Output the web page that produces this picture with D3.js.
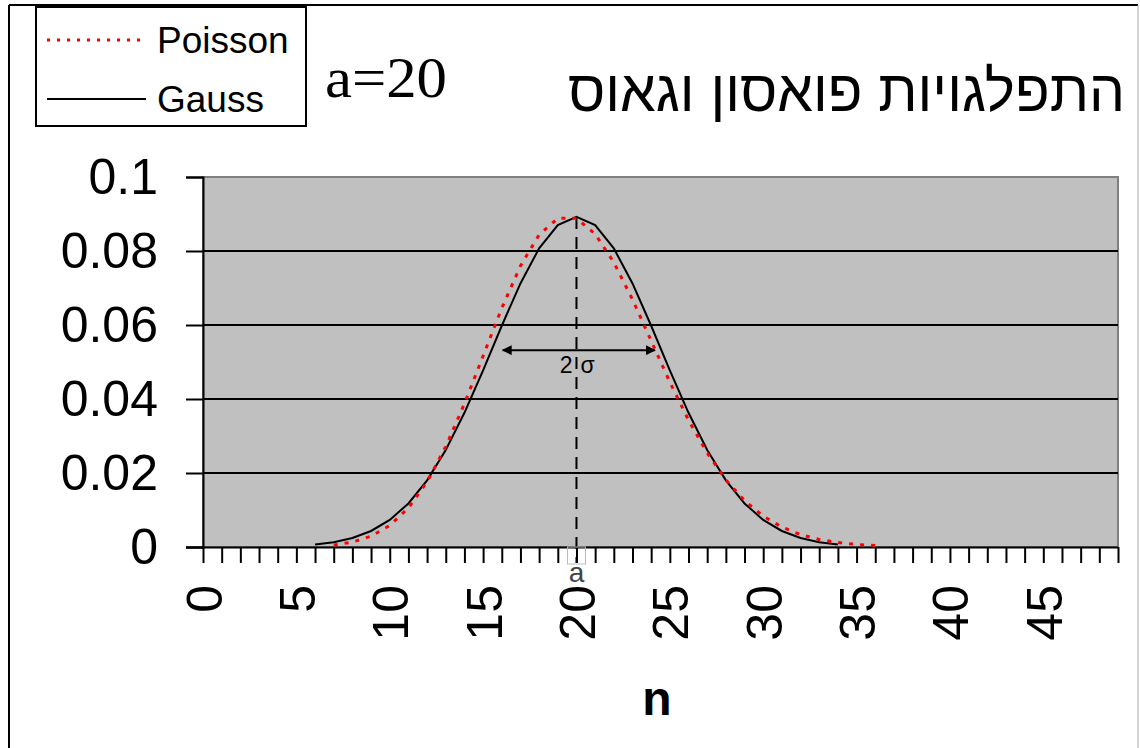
<!DOCTYPE html>
<html>

<head>
    <meta charset="utf-8">
    <script src="https://d3js.org/d3.v7.min.js"></script>
    <style>
        body {
            margin: 0;
            background: #fff;
        }
    </style>
</head>

<body>
    <div id="chart"></div>
    <script>
        // values
        var poissonN = [7, 8, 9, 10, 11, 12, 13, 14, 15, 16, 17, 18, 19, 20, 21, 22, 23, 24, 25, 26, 27, 28, 29, 30, 31, 32, 33, 34, 35, 36];
        var poissonP = [0.00052, 0.00132, 0.00291, 0.00582, 0.01057, 0.01762, 0.02712, 0.03874, 0.05165, 0.06457,
            0.07595, 0.08439, 0.08884, 0.08884, 0.08461, 0.07692, 0.06689, 0.05574, 0.04459, 0.03430,
            0.02541, 0.01815, 0.01252, 0.00834, 0.00538, 0.00336, 0.00204, 0.00120, 0.00069, 0.00038];
        var gaussN = [6, 7, 8, 9, 10, 11, 12, 13, 14, 15, 16, 17, 18, 19, 20, 21, 22, 23, 24, 25, 26, 27, 28, 29, 30, 31, 32, 33, 34];
        var gaussP = [0.00066, 0.00130, 0.00244, 0.00433, 0.00732, 0.01177, 0.01801, 0.02621, 0.03627, 0.04775,
            0.05980, 0.07124, 0.08072, 0.08701, 0.08921, 0.08701, 0.08072, 0.07124, 0.05980, 0.04775,
            0.03627, 0.02621, 0.01801, 0.01177, 0.00732, 0.00433, 0.00244, 0.00130, 0.00066];
        var xTickLabels = [0, 5, 10, 15, 20, 25, 30, 35, 40, 45];
        var yTickLabels = [0, 0.02, 0.04, 0.06, 0.08, 0.1];
        var titleText = "התפלגויות פואסון וגאוס";
        var paramText = "a=20";
        var legendNames = ["Poisson", "Gauss"];
        var meanA = 20;
        var sigmaFrom = 16.05, sigmaTo = 24.2, sigmaLevel = 0.0532;

        var W = 1140, H = 748;
        var svg = d3.select("#chart").append("svg")
            .attr("width", W)
            .attr("height", H)
            .style("font-family", "'Liberation Sans', Arial, sans-serif");

        // outer chart frame
        svg.append("line").attr("x1", 9).attr("x2", 9).attr("y1", 5).attr("y2", H)
            .attr("stroke", "#000").attr("stroke-width", 2);
        svg.append("line").attr("x1", 9).attr("x2", 1138).attr("y1", 5).attr("y2", 5)
            .attr("stroke", "#000").attr("stroke-width", 2);
        svg.append("line").attr("x1", 1138).attr("x2", 1138).attr("y1", 5).attr("y2", H)
            .attr("stroke", "#aaa").attr("stroke-width", 1);

        var x = d3.scaleLinear().domain([0, 49]).range([203, 1118]);
        var y = d3.scaleLinear().domain([0, 0.1]).range([547, 177]);

        // plot area
        svg.append("rect")
            .attr("x", x(0)).attr("y", y(0.1))
            .attr("width", x(49) - x(0)).attr("height", y(0) - y(0.1))
            .attr("fill", "#c0c0c0")
            .attr("stroke", "#808080")
            .attr("stroke-width", 2);

        // gridlines
        svg.selectAll(".grid")
            .data(yTickLabels.filter(function (d) { return d > 0 && d < 0.1; }))
            .enter().append("line")
            .attr("class", "grid")
            .attr("x1", x(0)).attr("x2", x(49))
            .attr("y1", function (d) { return y(d); })
            .attr("y2", function (d) { return y(d); })
            .attr("stroke", "#000").attr("stroke-width", 2);

        // y axis
        var yAxis = svg.append("g")
            .attr("transform", "translate(" + x(0) + ",0)")
            .call(d3.axisLeft(y).tickValues(yTickLabels).tickSize(17).tickPadding(28)
                .tickFormat(function (d) { return d3.format("")(+d.toFixed(2)); }));
        yAxis.select(".domain").attr("stroke", "#000").attr("stroke-width", 2);
        yAxis.selectAll(".tick line").attr("stroke", "#000").attr("stroke-width", 2);
        yAxis.selectAll(".tick text")
            .attr("fill", "#000")
            .style("font-size", "50px")
            .style("font-family", "'Liberation Sans', Arial, sans-serif");

        // x axis: one tick per n, labels every 5
        var xAxis = svg.append("g")
            .attr("transform", "translate(0," + y(0) + ")")
            .call(d3.axisBottom(x).tickValues(d3.range(0, 50)).tickSize(16).tickSizeOuter(0)
                .tickFormat(function (d) { return xTickLabels.indexOf(d) >= 0 ? d : ""; }));
        xAxis.select(".domain").attr("stroke", "#000").attr("stroke-width", 2)
            .attr("d", "M186,0.5H" + x(49));
        xAxis.selectAll(".tick line").attr("stroke", "#000").attr("stroke-width", 2);
        xAxis.selectAll(".tick text")
            .attr("fill", "#000")
            .attr("transform", "rotate(-90)")
            .attr("text-anchor", "end")
            .attr("x", -38)
            .attr("y", 0)
            .attr("dy", "0.36em")
            .style("font-size", "50px")
            .style("font-family", "'Liberation Sans', Arial, sans-serif");

        svg.append("text")
            .attr("x", 657).attr("y", 715)
            .attr("text-anchor", "middle")
            .style("font-size", "48px")
            .style("font-weight", "bold")
            .text("n");

        // mean marker
        svg.append("line")
            .attr("x1", x(meanA)).attr("x2", x(meanA))
            .attr("y1", y(0.0892)).attr("y2", 563)
            .attr("stroke", "#000").attr("stroke-width", 2)
            .attr("stroke-dasharray", "12,8");
        svg.append("rect")
            .attr("x", x(meanA) - 9).attr("y", 547)
            .attr("width", 18).attr("height", 17)
            .attr("fill", "none").attr("stroke", "#bbb").attr("stroke-width", 1);
        svg.append("text")
            .attr("x", x(meanA)).attr("y", 582)
            .attr("text-anchor", "middle")
            .attr("fill", "#444")
            .style("font-size", "28px")
            .text("a");

        // curves
        var line = d3.line()
            .x(function (d) { return x(d[0]); })
            .y(function (d) { return y(d[1]); });
        svg.append("path")
            .datum(d3.zip(gaussN, gaussP))
            .attr("d", line)
            .attr("fill", "none")
            .attr("stroke", "#000")
            .attr("stroke-width", 2);
        svg.append("path")
            .datum(d3.zip(poissonN, poissonP))
            .attr("d", line)
            .attr("fill", "none")
            .attr("stroke", "#ff0000")
            .attr("stroke-width", 3)
            .attr("stroke-dasharray", "4,7");

        // 2 sigma arrow
        var defs = svg.append("defs");
        defs.append("marker")
            .attr("id", "arrow")
            .attr("viewBox", "0 0 10 10")
            .attr("refX", 9).attr("refY", 5)
            .attr("markerWidth", 5).attr("markerHeight", 5)
            .attr("orient", "auto-start-reverse")
            .append("path")
            .attr("d", "M0,0L10,5L0,10z")
            .attr("fill", "#000");
        svg.append("line")
            .attr("x1", x(sigmaFrom)).attr("x2", x(sigmaTo))
            .attr("y1", y(sigmaLevel)).attr("y2", y(sigmaLevel))
            .attr("stroke", "#000").attr("stroke-width", 2)
            .attr("marker-start", "url(#arrow)")
            .attr("marker-end", "url(#arrow)");
        svg.append("text")
            .attr("x", x(meanA) - 4).attr("y", 373)
            .attr("text-anchor", "end")
            .style("font-size", "23px")
            .text("2");
        svg.append("text")
            .attr("x", x(meanA) + 4).attr("y", 373)
            .attr("text-anchor", "start")
            .style("font-size", "23px")
            .text("σ");

        // legend
        var legend = svg.append("g");
        legend.append("rect")
            .attr("x", 36).attr("y", 7)
            .attr("width", 270).attr("height", 119)
            .attr("fill", "#fff")
            .attr("stroke", "#000").attr("stroke-width", 2);
        var legendY = [40, 99];
        legend.selectAll(".lg-line")
            .data(legendNames)
            .enter().append("line")
            .attr("x1", 47).attr("x2", 146)
            .attr("y1", function (d, i) { return legendY[i]; })
            .attr("y2", function (d, i) { return legendY[i]; })
            .attr("stroke", function (d, i) { return i === 0 ? "#ff0000" : "#000"; })
            .attr("stroke-width", function (d, i) { return i === 0 ? 3 : 2; })
            .attr("stroke-dasharray", function (d, i) { return i === 0 ? "3,7" : null; });
        legend.selectAll(".lg-text")
            .data(legendNames)
            .enter().append("text")
            .attr("x", 157)
            .attr("y", function (d, i) { return legendY[i] + 13; })
            .style("font-size", "37px")
            .text(function (d) { return d; });

        // titles
        svg.append("text")
            .attr("x", 325).attr("y", 97)
            .attr("textLength", 122)
            .attr("lengthAdjust", "spacingAndGlyphs")
            .style("font-family", "'Liberation Serif', 'Times New Roman', serif")
            .style("font-size", "56px")
            .text(paramText);
        svg.append("text")
            .attr("x", 568).attr("y", 111)
            .attr("textLength", 557)
            .attr("lengthAdjust", "spacingAndGlyphs")
            .style("font-family", "'Liberation Sans', Arial, sans-serif")
            .style("font-size", "58px")
            .text(titleText);
    </script>
</body>

</html>
